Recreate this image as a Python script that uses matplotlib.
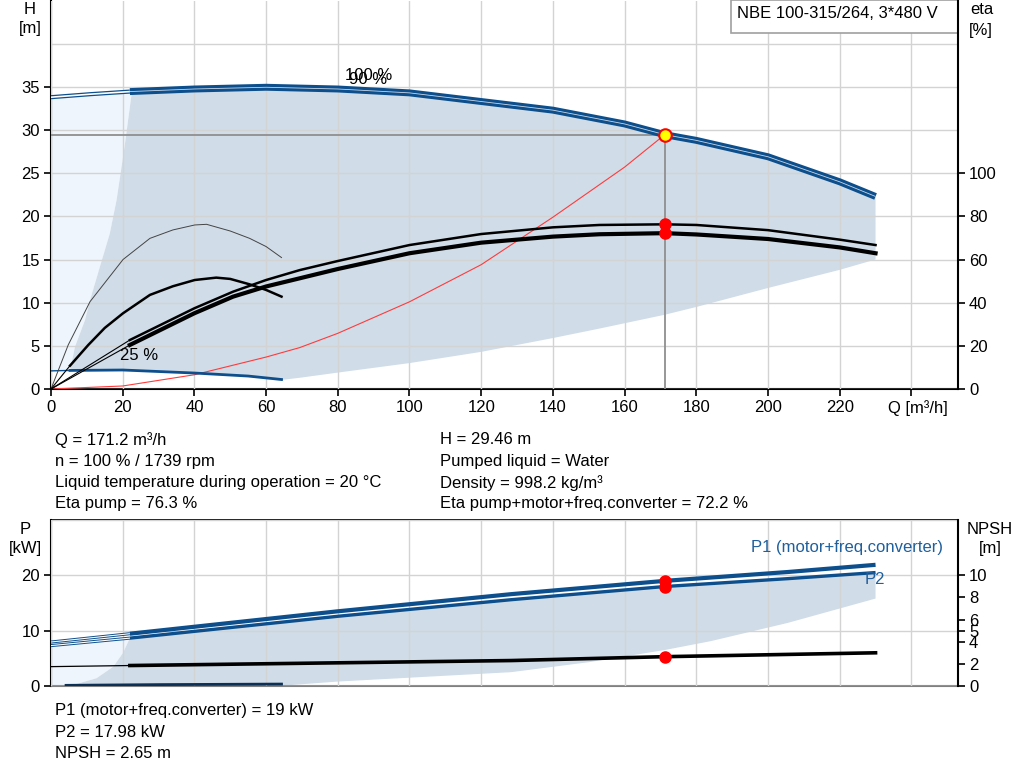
import matplotlib
matplotlib.use("Agg")
import matplotlib.pyplot as plt
from matplotlib.patches import Polygon, Rectangle

plt.rcParams['font.family'] = ['Liberation Sans', 'DejaVu Sans']
FS = 12
plt.rcParams['font.size'] = FS

# ---------------- data ----------------
x_ticks = [0, 20, 40, 60, 80, 100, 120, 140, 160, 180, 200, 220, 240]
x_labels = ['0', '20', '40', '60', '80', '100', '120', '140', '160', '180', '200', '220', '']
h_ticks = [0, 5, 10, 15, 20, 25, 30, 35]
eta_ticks = [0, 20, 40, 60, 80, 100]
p_ticks = [0, 10, 20]
npsh_ticks = [0, 2, 4, 5, 6, 8, 10]

# H curve 100 % (thin part Q<22, thick part Q>=22)
q_h_thin = [0, 11, 22]
h_thin = [33.8, 34.15, 34.45]
q_h = [22, 40, 60, 80, 100, 120, 140, 160, 171.2, 180, 200, 220, 230]
h_h = [34.45, 34.75, 34.95, 34.75, 34.3, 33.3, 32.3, 30.7, 29.46, 28.8, 26.9, 24.0, 22.3]

# H curve 25 %
q_h25 = [0, 5.3, 20, 40, 55, 64.3]
h_h25 = [2.1, 2.15, 2.2, 1.85, 1.5, 1.1]

# system curve
q_sys = [0, 20, 40, 60, 69.4, 80, 100, 120, 140, 160, 171.2]
h_sys = [0, 0.35, 1.65, 3.7, 4.8, 6.45, 10.1, 14.4, 19.9, 25.7, 29.46]

# operating point
q_op = 171.2
h_op = 29.46
eta_pump_op = 76.3
eta_tot_op = 72.2
p1_op = 19.0
p2_op = 17.98
npsh_op = 2.65

# shaded operating range (top)
q_area_left = [5.3, 6.7, 9.5, 10.9, 13.6, 16.4, 18.3, 20.5, 22.5]
h_area_left = [2.1, 4.9, 8.0, 10.3, 14.1, 18.0, 21.9, 28.0, 34.2]
q_area_low = [64.3, 69.4, 80, 100, 120, 140, 153, 171.2, 180, 200, 220, 230]
h_area_low = [1.05, 1.3, 1.9, 3.0, 4.3, 5.9, 7.0, 8.6, 9.5, 11.7, 13.8, 15.0]

# eta 100 % curves
q_eta = [22, 40, 50.8, 60, 69.4, 80, 100, 120, 140, 153, 171.2, 180, 200, 220, 230]
eta_pump = [22.7, 37.4, 45.1, 50.5, 55.1, 59.3, 66.7, 71.8, 74.9, 76.0, 76.3, 76.0, 73.6, 69.2, 66.7]
eta_tot = [20.4, 35.1, 42.8, 47.5, 51.3, 55.6, 62.9, 67.8, 70.6, 71.7, 72.2, 71.6, 69.5, 65.6, 62.9]
q_eta_thin = [0, 22]
eta_pump_thin = [0, 22.7]
eta_tot_thin = [0, 20.4]

# eta 25 % curves
q_eta25p = [0, 4.8, 10.9, 20.1, 27.6, 34, 40.1, 43.4, 50, 55.4, 60, 64.3]
eta25_pump = [0, 20.4, 40.5, 60, 69.8, 73.7, 76, 76.3, 73.2, 69.8, 66, 60.9]
q_eta25t = [5.3, 10.4, 15, 20.1, 27.6, 34, 40.1, 46.1, 50, 55.4, 60, 64.3]
eta25_tot = [10.8, 20.4, 28.3, 35.1, 43.6, 47.6, 50.5, 51.6, 51, 48.5, 45.9, 42.8]

# power curves
q_p_thin = [0, 22]
p1_thin = [7.95, 9.45]
p2_thin = [7.3, 8.65]
q_p = [22, 80, 128.4, 171.2, 205.5, 230]
p1 = [9.45, 13.5, 16.6, 19.0, 20.6, 21.9]
p2 = [8.65, 12.6, 15.6, 17.98, 19.4, 20.5]
q_p25 = [4.2, 30, 64.3]
p_p25 = [0.12, 0.25, 0.35]

# NPSH
q_npsh_thin = [0, 22]
npsh_thin = [1.75, 1.85]
q_npsh = [22, 128.4, 171.2, 230]
npsh = [1.85, 2.3, 2.65, 3.0]

# shaded range (bottom)
q_parea_left = [22, 20.1, 17.4, 12.7, 6.2, 3.0]
p_parea_left = [8.65, 6.0, 3.5, 1.4, 0.2, 0.0]
q_parea_low = [64.3, 80, 100, 128.4, 150, 171.2, 184, 205.5, 230]
p_parea_low = [0.05, 0.8, 1.5, 2.5, 4.3, 6.5, 8.1, 11.4, 15.8]

# ---------------- styles ----------------
BLUE = '#0c4f8c'
SHADE = '#d0dce8'
LIGHT = '#eef5fd'
GRID = '#d3d3d3'

W, H = 1024, 781
fig = plt.figure(figsize=(W / 100, H / 100), dpi=100)

def fx(px):
    return px / W

def fy(py):
    return 1 - py / H

ax = fig.add_axes([fx(51), fy(389), fx(958) - fx(51), fy(0.5) - fy(389)])
ax2 = ax.twinx()
axb = fig.add_axes([fx(51), fy(686), fx(958) - fx(51), fy(520) - fy(686)])
axb2 = axb.twinx()

XMAX = 253
for a in (ax, ax2, axb, axb2):
    a.set_xlim(0, XMAX)
ax.set_ylim(0, 45)
ax2.set_ylim(0, 180)
axb.set_ylim(0, 30)
axb2.set_ylim(0, 15)

# ---------- top panel ----------
ax.set_axisbelow(False)
ax.grid(True, color=GRID, lw=1.0)
ax.set_xticks(x_ticks)
ax.set_xticklabels(x_labels)
ax.set_yticks(h_ticks + [40], labels=[str(t) for t in h_ticks] + [''])
ax.tick_params(axis='y', which='both', length=5, width=1.2, direction='out', pad=3, labelsize=FS)
ax.tick_params(axis='x', length=5, width=1.2, direction='out', pad=3, labelsize=FS)
ax.yaxis.get_major_ticks()[-1].tick1line.set_visible(False)
ax.spines['top'].set_visible(False)
ax.spines['left'].set_linewidth(1.5)
ax.spines['bottom'].set_linewidth(1.5)
ax.spines['right'].set_visible(False)
ax2.spines['top'].set_visible(False)
ax2.spines['left'].set_visible(False)
ax2.spines['bottom'].set_visible(False)
ax2.spines['right'].set_linewidth(1.5)
ax2.set_yticks(eta_ticks)
ax2.tick_params(axis='y', length=5, width=1.2, direction='out', pad=3, labelsize=FS)

# light area left
light_pts = [(0, h_h25[0])] + list(zip(q_h_thin, h_thin)) + [(q_area_left[-1], h_area_left[-1])] \
    + list(zip(q_area_left[::-1], h_area_left[::-1]))
ax.add_patch(Polygon(light_pts, closed=True, facecolor=LIGHT, edgecolor='none', zorder=1))
# shaded area
area_pts = list(zip(q_area_left, h_area_left)) + list(zip(q_h, h_h)) \
    + list(zip(q_area_low[::-1], h_area_low[::-1])) \
    + [(q, h) for q, h in zip(q_h25[::-1], h_h25[::-1]) if q > 5.3]
ax.add_patch(Polygon(area_pts, closed=True, facecolor=SHADE, edgecolor='none', zorder=1.2))

# reference lines to operating point
ax.plot([0, q_op], [h_op, h_op], color='#8f8f8f', lw=1.3, zorder=3)
ax.plot([q_op, q_op], [0, h_op], color='#8f8f8f', lw=1.3, zorder=3)

# system curve
ax.plot(q_sys, h_sys, color='#ff3b3b', lw=0.8, zorder=4)

# H curves
ax.plot(q_h_thin, h_thin, color=BLUE, lw=3.0, zorder=5, solid_capstyle='butt')
ax.plot(q_h_thin, h_thin, color='white', lw=1.2, zorder=5.1, solid_capstyle='butt')
ax.plot(q_h, h_h, color=BLUE, lw=5.0, zorder=5, solid_capstyle='butt')
ax.plot(q_h, h_h, color='#c8d6e6', lw=0.6, zorder=5.1, solid_capstyle='butt')
ax.plot(q_h25[:2], h_h25[:2], color=BLUE, lw=1.0, zorder=5)
ax.plot(q_h25[1:], h_h25[1:], color=BLUE, lw=2.0, zorder=5)

ax.text(82, 36.3, '100 %', fontsize=FS, ha='left', va='center', zorder=6)
ax.text(83.2, 35.9, '90 %', fontsize=FS, ha='left', va='center', zorder=6)
ax.text(19.2, 3.9, '25 %', fontsize=FS, ha='left', va='center', zorder=6)

ax.plot([q_op], [h_op], 'o', ms=9, mfc='#ffff00', mec='#ff0000', mew=1.5, zorder=8)

# eta curves on twin axis
ax2.plot(q_eta_thin, eta_pump_thin, color='black', lw=0.8, zorder=4)
ax2.plot(q_eta_thin, eta_tot_thin, color='black', lw=0.8, zorder=4)
ax2.plot(q_eta, eta_pump, color='black', lw=1.8, zorder=4)
ax2.plot(q_eta, eta_tot, color='black', lw=3.0, zorder=4)
ax2.plot(q_eta25p, eta25_pump, color='#444444', lw=0.7, zorder=4)
ax2.plot([0, q_eta25t[0]], [0, eta25_tot[0]], color='black', lw=0.8, zorder=4)
ax2.plot(q_eta25t, eta25_tot, color='black', lw=1.8, zorder=4)
ax2.plot([q_op, q_op], [eta_pump_op, eta_tot_op], 'o', ms=8, color='#ff0000', zorder=6)

# title box
ax.add_patch(Rectangle((fx(731), fy(33)), fx(958) - fx(731), fy(0) - fy(33), transform=fig.transFigure,
                       facecolor='white', edgecolor='#a0a0a0', lw=1.2, zorder=20, clip_on=False))
fig.text(fx(737), fy(14), 'NBE 100-315/264, 3*480 V', fontsize=FS, ha='left', va='center', zorder=21)

# axis titles
fig.text(fx(30), fy(9), 'H', fontsize=FS, ha='center', va='center')
fig.text(fx(30), fy(29), '[m]', fontsize=FS, ha='center', va='center')
fig.text(fx(982), fy(10), 'eta', fontsize=FS, ha='center', va='center')
fig.text(fx(981), fy(30), '[%]', fontsize=FS, ha='center', va='center')
fig.text(fx(918), fy(408), 'Q [m\u00b3/h]', fontsize=FS, ha='center', va='center')

# info text
left_lines = ['Q = 171.2 m\u00b3/h', 'n = 100 % / 1739 rpm',
              'Liquid temperature during operation = 20 \u00b0C', 'Eta pump = 76.3 %']
right_lines = ['H = 29.46 m', 'Pumped liquid = Water', 'Density = 998.2 kg/m\u00b3',
               'Eta pump+motor+freq.converter = 72.2 %']
for i, (l, r) in enumerate(zip(left_lines, right_lines)):
    yy = 440 + i * 21.3
    fig.text(fx(55), fy(yy), l, fontsize=FS, ha='left', va='center')
    fig.text(fx(440), fy(yy), r, fontsize=FS, ha='left', va='center')

# ---------- bottom panel ----------
axb.set_axisbelow(False)
axb.set_xticks(x_ticks)
axb.set_xticklabels([])
axb.tick_params(axis='x', length=0)
axb.grid(True, axis='x', color=GRID, lw=1.0)
axb.set_yticks(p_ticks + [30], labels=[str(t) for t in p_ticks] + [''])
axb.grid(True, axis='y', color=GRID, lw=1.0)
axb.tick_params(axis='y', length=5, width=1.2, direction='out', pad=3, labelsize=FS)
axb.yaxis.get_major_ticks()[-1].tick1line.set_visible(False)
axb.spines['left'].set_linewidth(1.5)
axb.spines['top'].set_linewidth(1.2)
axb.spines['bottom'].set_color('#808080')
axb.spines['bottom'].set_linewidth(1.5)
axb.spines['right'].set_visible(False)
axb2.spines['left'].set_visible(False)
axb2.spines['top'].set_visible(False)
axb2.spines['bottom'].set_visible(False)
axb2.spines['right'].set_linewidth(1.5)
axb2.set_yticks(npsh_ticks)
axb2.tick_params(axis='y', length=5, width=1.2, direction='out', pad=3, labelsize=FS)

plight = [(0, 0), (0, p2_thin[0]), (q_p_thin[1], p2_thin[1])] + list(zip(q_parea_left, p_parea_left))
axb.add_patch(Polygon(plight, closed=True, facecolor=LIGHT, edgecolor='none', zorder=1))
parea = list(zip(q_parea_left, p_parea_left)) + list(zip(q_parea_low, p_parea_low)) \
    + list(zip(q_p[::-1], p2[::-1]))
axb.add_patch(Polygon(parea, closed=True, facecolor=SHADE, edgecolor='none', zorder=1.2))

for yv in (p1_thin, p2_thin):
    axb.plot(q_p_thin, yv, color=BLUE, lw=2.2, zorder=5, solid_capstyle='butt')
    axb.plot(q_p_thin, yv, color='white', lw=0.8, zorder=5.1, solid_capstyle='butt')
axb.plot(q_p, p1, color=BLUE, lw=3.0, zorder=5, solid_capstyle='butt')
axb.plot(q_p, p2, color=BLUE, lw=2.4, zorder=5, solid_capstyle='butt')
axb.plot(q_p25, p_p25, color='#0b2f55', lw=2.0, zorder=5)
axb.plot([q_op, q_op], [p1_op, p2_op], 'o', ms=8, color='#ff0000', zorder=7)
axb.text(195.3, 25.1, 'P1 (motor+freq.converter)', color='#1f5f9c', fontsize=FS, ha='left', va='center', zorder=8)
axb.text(227, 19.2, 'P2', color='#1f5f9c', fontsize=FS, ha='left', va='center', zorder=8)

axb2.plot(q_npsh_thin, npsh_thin, color='black', lw=0.9, zorder=5)
axb2.plot(q_npsh, npsh, color='black', lw=2.6, zorder=5)
axb2.plot([q_op], [npsh_op], 'o', ms=8, color='#ff0000', zorder=7)

fig.text(fx(25), fy(530), 'P', fontsize=FS, ha='center', va='center')
fig.text(fx(25), fy(549), '[kW]', fontsize=FS, ha='center', va='center')
fig.text(fx(990), fy(530), 'NPSH', fontsize=FS, ha='center', va='center')
fig.text(fx(990), fy(549), '[m]', fontsize=FS, ha='center', va='center')

bottom_lines = ['P1 (motor+freq.converter) = 19 kW', 'P2 = 17.98 kW', 'NPSH = 2.65 m']
for i, t in enumerate(bottom_lines):
    fig.text(fx(55), fy(711 + i * 21.3), t, fontsize=FS, ha='left', va='center')

fig.savefig('out.png', dpi=100)
